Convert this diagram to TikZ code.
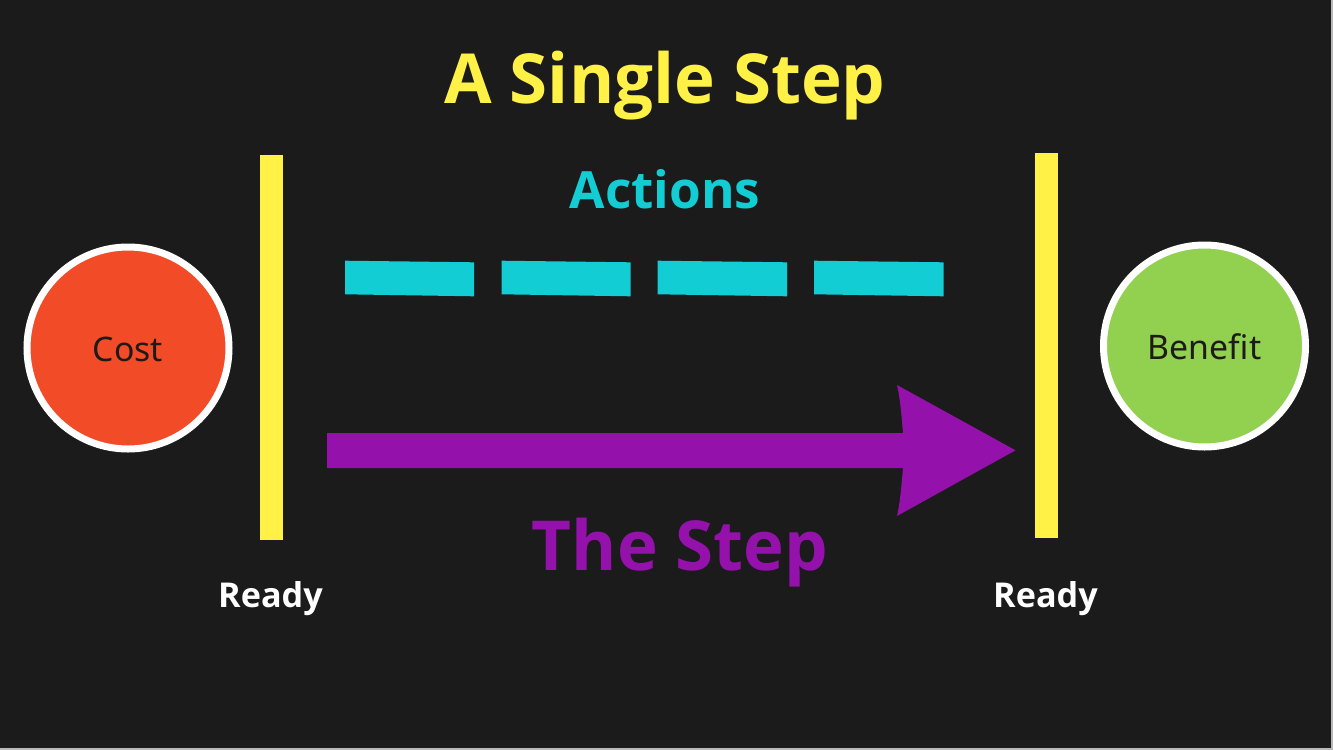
\documentclass[tikz,border=0pt]{standalone}
\usepackage{fontspec}
\setmainfont{Noto Sans}
\newfontfamily\boldsans{Open Sans}
\definecolor{bg}{HTML}{1B1B1B}
\definecolor{ttl}{HTML}{FFF145}
\definecolor{act}{HTML}{13CDD4}
\definecolor{stp}{HTML}{9511AB}
\definecolor{cost}{HTML}{F24B27}
\definecolor{bene}{HTML}{92D050}
\definecolor{ink}{HTML}{1E1A18}
\tikzset{
  ball/.style={circle, draw=white, line width=7pt, minimum size=202pt, inner sep=0pt},
  balltext/.style={anchor=base, inner sep=0pt, font=\fontsize{33.8}{33.8}\selectfont, text=ink},
  bar/.style={fill=ttl, draw=none, minimum width=23pt, minimum height=385pt, inner sep=0pt},
  dashbox/.style={fill=act, draw=none},
  readylbl/.style={anchor=base, text=white, font=\boldsans\bfseries\fontsize{34.2}{34.2}\selectfont, inner sep=0pt},
}
\begin{document}
\begin{tikzpicture}[x=1pt,y=-1pt]
\fill[bg] (0,0) rectangle (1333,750);
\useasboundingbox (0,0) rectangle (1333,750);
\draw[gray!55, line width=2pt] (1332,0) -- (1332,749) -- (0,749);

% title
\node[anchor=base, text=ttl, font=\boldsans\bfseries\fontsize{69}{69}\selectfont, inner sep=0pt] (title) at (665,103) {A Single Step};
\node[anchor=base, text=act, font=\boldsans\bfseries\fontsize{51.3}{51.3}\selectfont, inner sep=0pt] (actions) at (665,208) {Actions};

% bars
\node[bar] (barL) at (271.5,347.5) {};
\node[bar] (barR) at (1046,345.5) {};

% circles
\node[ball, fill=cost] (costc) at (128,348) {};
\node[balltext] (costt) at (128,361.5) {Cost};
\node[ball, fill=bene] (benec) at (1204.5,346) {};
\node[balltext] (benet) at (1204.5,359.5) {Benefit};

% dashes
\fill[dashbox] (345,260.7) -- (474,262.3) -- (474,296.3) -- (345,294.3) -- cycle;
\fill[dashbox] (501.5,260.7) -- (630.5,262.3) -- (630.5,296.3) -- (501.5,294.3) -- cycle;
\fill[dashbox] (657.5,260.7) -- (787,262.3) -- (787,296.3) -- (657.5,294.3) -- cycle;
\fill[dashbox] (814,260.7) -- (943.5,262.3) -- (943.5,296.3) -- (814,294.3) -- cycle;

% arrow
\fill[stp] (327,433) -- (903,433) .. controls (901,410) and (900,398) .. (897,385)
  -- (1015.5,450.3) -- (897,516) .. controls (900,503) and (901,490) .. (903,468)
  -- (327,468) -- cycle;

\node[anchor=base, text=stp, font=\boldsans\bfseries\fontsize{69}{69}\selectfont, inner sep=0pt] (thestep) at (680,570) {The Step};

\node[readylbl] (readyL) at (270.5,607.5) {Ready};
\node[readylbl] (readyR) at (1045.5,607.5) {Ready};
\end{tikzpicture}
\end{document}
